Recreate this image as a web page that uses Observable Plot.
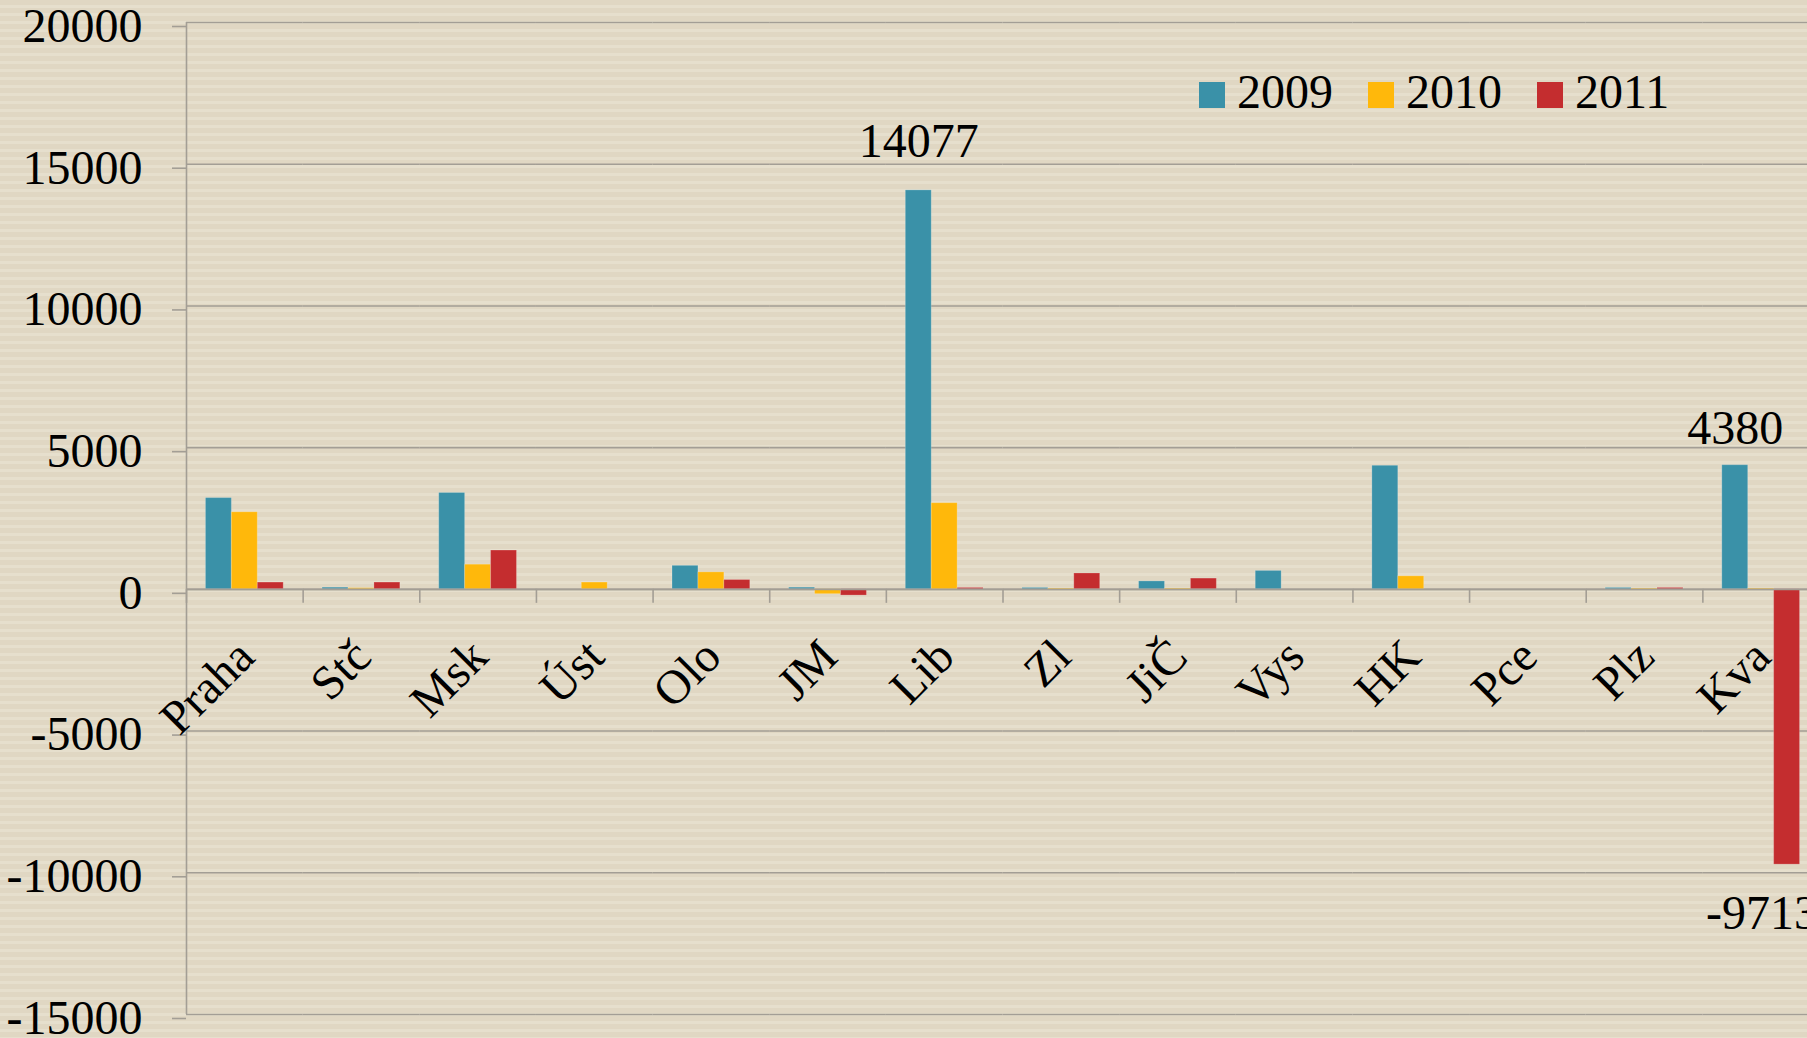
<!DOCTYPE html>
<html><head><meta charset="utf-8">
<script src="https://cdn.jsdelivr.net/npm/d3@7"></script>
<script src="https://cdn.jsdelivr.net/npm/@observablehq/plot@0.6"></script>
<style>
html, body { margin:0; padding:0; overflow:hidden; width:1807px; height:1038px; }
body {
  position: relative;
  background-color: #e0d7c3;
  background-image: repeating-linear-gradient(to bottom, #e0d7c3 0px, #e0d7c3 5px, #e6dfcd 5px, #e6dfcd 8px);
  font-family: "Liberation Serif", serif;
}
#chart { position:absolute; left:0; top:0; }
.lg-swatches { position:absolute !important; left:1199px; top:64px; font-family:"Liberation Serif", serif !important; font-size:48px !important; color:#000 !important; margin:0 !important; }
.lg-swatch { margin-right:35px !important; align-items: baseline !important; }
.lg-swatch > svg { margin-right:12px !important; }
</style></head>
<body><div id="chart"></div>
<script>
const categories = ["Praha","Stč","Msk","Úst","Olo","JM","Lib","Zl","JiČ","Vys","HK","Pce","Plz","Kva"];
const series = ["2009","2010","2011"];
const values2009 = [3220, 60, 3400, 0, 830, 60, 14077, 50, 280, 650, 4360, 0, 50, 4380];
const values2010 = [2720, 40, 870, 240, 600, -170, 3040, 30, 30, 0, 460, 0, 30, 30];
const values2011 = [240, 240, 1370, 0, 330, -220, 50, 560, 380, 0, 0, 0, 50, -9713];
const colors = ["#3a91a8", "#ffb80b", "#c42d2f"];
const yTicks = [-15000, -10000, -5000, 0, 5000, 10000, 15000, 20000];

const seriesValues = [values2009, values2010, values2011];
const data = [];
categories.forEach((c, i) => series.forEach((s, j) => data.push({cat: c, series: s, value: seriesValues[j][i]})));
const pick = (c, s) => data.filter(d => d.cat === c && d.series === s);

const W = 1819, H = 1038, ML = 186, MT = 22, MB = 24;
const outerPad = 0.75;
const step = (W - ML) / categories.length / (series.length + 2 * outerPad);
const edgeDx = -(outerPad + 0.5) * step;
const grid = "#a39e95";
const font = "'Liberation Serif', serif";

const chart = Plot.plot({
  width: W, height: H,
  marginLeft: ML, marginRight: 0, marginTop: MT, marginBottom: MB,
  style: {background: "transparent", maxWidth: "none", overflow: "visible", fontFamily: font, fontSize: "48px", color: "#000"},
  fx: {domain: categories, padding: 0, round: false, axis: null, label: null},
  x: {domain: series, paddingInner: 0, paddingOuter: outerPad, round: false, axis: null},
  y: {domain: [-15000, 20000], axis: null},
  color: {domain: series, range: colors},
  marks: [
    Plot.ruleY(yTicks, {stroke: grid, strokeWidth: 1.6}),
    Plot.barY(data, {fx: "cat", x: "series", y: "value", fill: "series", stroke: "#ffffff", strokeOpacity: 0.2, strokeWidth: 1}),
    Plot.ruleY([0], {stroke: grid, strokeWidth: 1.6}),
    Plot.ruleX(categories, {fx: d => d, x: () => series[0], y1: () => 0, y2: () => 0, insetBottom: -14, dx: edgeDx, stroke: grid, strokeWidth: 1.6}),
    Plot.ruleX([categories[0]], {fx: d => d, x: () => series[0], dx: edgeDx, stroke: grid, strokeWidth: 1.6}),
    Plot.axisY({ticks: yTicks, tickSize: 14, tickPadding: 30, tickFormat: d => String(d), fontSize: 48, stroke: grid, strokeWidth: 1.6, fill: "#000", dy: 4, label: null}),
    Plot.text(categories, {fx: d => d, y: () => 0, text: d => d, rotate: -45, textAnchor: "end", lineAnchor: "bottom", dx: 12, dy: 70, fontSize: 48, fill: "#000"}),
    Plot.text(pick("Lib", "2009"), {fx: "cat", x: "series", y: "value", text: d => String(d.value), lineAnchor: "bottom", dy: -33, fontSize: 48, fill: "#000"}),
    Plot.text(pick("Kva", "2009"), {fx: "cat", x: "series", y: "value", text: d => String(d.value), lineAnchor: "bottom", dy: -21, fontSize: 48, fill: "#000"}),
    Plot.text(pick("Kva", "2011"), {fx: "cat", x: "series", y: "value", text: d => String(d.value), lineAnchor: "bottom", dx: -25, dy: 64, fontSize: 48, fill: "#000"})
  ]
});
document.getElementById("chart").appendChild(chart);

const legend = Plot.legend({color: {domain: series, range: colors}, legend: "swatches", swatchSize: 26, className: "lg"});
document.body.appendChild(legend);
</script>
</body></html>
